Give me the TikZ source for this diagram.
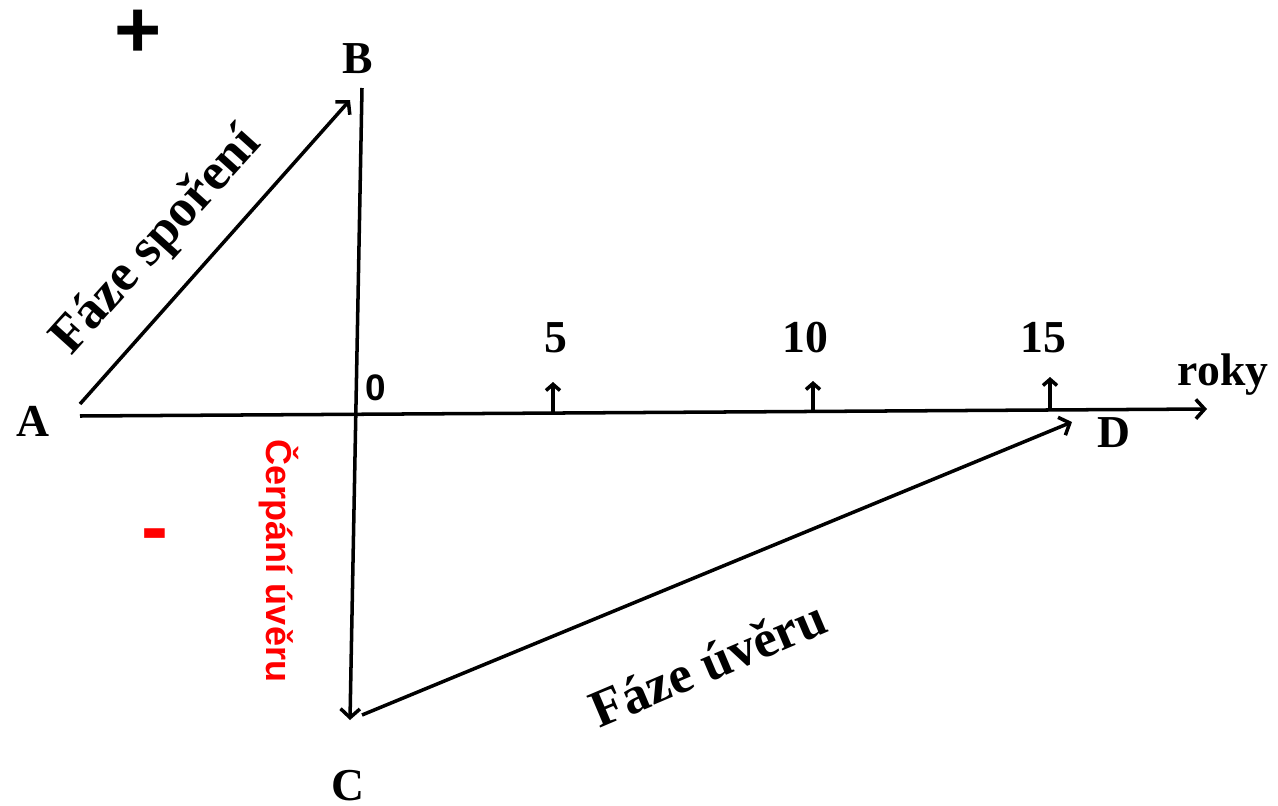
\documentclass[tikz,border=0pt]{standalone}
\usepackage{fontspec}
\setmainfont{Liberation Serif}
\setsansfont{Liberation Sans}
\usetikzlibrary{arrows.meta}

\begin{document}
\begin{tikzpicture}[x=0.02cm, y=-0.02cm, line width=2pt,
  arr/.style={-{Straight Barb[length=5pt,width=11pt]}},
  tick/.style={-{Straight Barb[length=3.5pt,width=8pt]}},
  lbl/.style={font=\fontsize{26}{30}\selectfont\bfseries, anchor=base, inner sep=0pt},
  phase/.style={font=\fontsize{30}{36}\selectfont\bfseries, inner sep=0pt},
  sign/.style={font=\sffamily\bfseries\fontsize{46}{50}\selectfont, anchor=base, inner sep=0pt}]
\useasboundingbox (0,0) rectangle (1278,805);
% end points of the lines
\coordinate (a0) at (80,416);
\coordinate (a1) at (80,404);
\coordinate (b0) at (350,100);
\coordinate (b1) at (362,88);
\coordinate (c0) at (350,720);
\coordinate (c1) at (362,715);
\coordinate (d0) at (1072,422);
\coordinate (axisend) at (1207,409);
% point labels
\node[lbl] (A) at (33,436) {A};
\node[lbl] (B) at (358,73) {B};
\node[lbl] (C) at (348,800) {C};
\node[lbl] (D) at (1114,447) {D};
\node[lbl] (roky) at (1223,385) {roky};
\node[font=\sffamily\bfseries\fontsize{21}{24}\selectfont, anchor=base, inner sep=0pt] (zero) at (376,400) {0};
\node[sign] (plus) at (138,57) {+};
\node[sign, text=red] (minus) at (155,554) {-};
% phases
\node[phase, rotate=48] (sporeni) at (157,242) {Fáze spoření};
\node[phase, rotate=23] (uver) at (708,663) {Fáze úvěru};
\node[font=\sffamily\bfseries\fontsize{20.5}{24}\selectfont, text=red, rotate=-90, inner sep=0pt] (cerpani) at (279,561) {Čerpání úvěru};
% lines
\draw[arr] (a0) -- (axisend);
\draw[arr] (a1) -- (b0);
\draw[arr] (b1) -- (c0);
\draw[arr] (c1) -- (d0);
% years
\foreach \x/\y/\t [count=\i] in {553/413/382, 813/411/381, 1050/410/377}{
  \coordinate (t\i) at (\x,\y);
  \coordinate (tt\i) at (\x,\t);
  \draw[tick] (t\i) -- (tt\i);
}
\node[lbl] (y5) at (556,352) {5};
\node[lbl] (y10) at (805,352) {10};
\node[lbl] (y15) at (1043,352) {15};
\end{tikzpicture}
\end{document}
